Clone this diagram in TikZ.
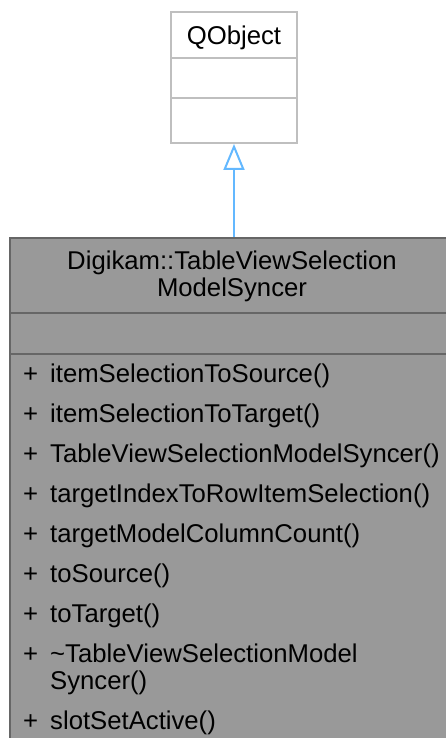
\documentclass[tikz,border=0pt]{standalone}
\usepackage{fontspec}
\setmainfont{Liberation Sans}
\usetikzlibrary{arrows.meta}
\definecolor{mainfill}{HTML}{999999}
\definecolor{mainline}{HTML}{666666}
\definecolor{qline}{HTML}{BFBFBF}
\definecolor{inh}{HTML}{63B8FF}
\tikzset{
  cls/.style={font=\fontsize{25.7}{29.5}\selectfont, inner sep=0pt},
  mem/.style={cls, anchor=base west},
  sect/.style={draw=mainline, fill=mainfill, line width=2pt, minimum width=446pt, anchor=north, inner sep=0pt},
  qsect/.style={draw=qline, fill=white, line width=2pt, minimum width=126pt, anchor=north, inner sep=0pt},
  inherit/.style={draw=inh, line width=2pt, -{Triangle[open, length=26pt, width=21pt, line width=2pt]}}
}
\begin{document}
\begin{tikzpicture}[x=1pt,y=-1pt]
\useasboundingbox (0,0) rectangle (446,738);
\clip (0,0) rectangle (446,738);
% QObject box
\node[qsect, minimum height=46pt] (qt) at (234,11) {};
\node[qsect, minimum height=40pt] (qa) at (234,57) {};
\node[qsect, minimum height=45pt] (qm) at (234,97) {};
\node[cls, anchor=base] (qname) at (234,45) {QObject};
% main box
\node[sect, minimum height=75pt] (mt) at (233,237) {};
\node[sect, minimum height=41pt] (ma) at (233,312) {};
\node[sect, minimum height=400pt] (mm) at (233,353) {};
\node[cls, anchor=base] (t1) at (232,269) {Digikam::TableViewSelection};
\node[cls, anchor=base] (t2) at (232,296) {ModelSyncer};
% members
\foreach \y/\txt [count=\i] in {382/itemSelectionToSource(), 422/itemSelectionToTarget(), 462/TableViewSelectionModelSyncer(), 502/targetIndexToRowItemSelection(), 542/targetModelColumnCount(), 582/toSource(), 622/toTarget(), 662/{\textasciitilde TableViewSelectionModel}, 729/slotSetActive()}{
  \node[mem] (p\i) at (23,\y) {+};
  \node[mem] (m\i) at (50,\y) {\txt};
}
\node[mem] (m8b) at (50,689) {Syncer()};
% inheritance
\draw[inherit] (mt.north -| qm.south) -- (qm.south);
\end{tikzpicture}
\end{document}
